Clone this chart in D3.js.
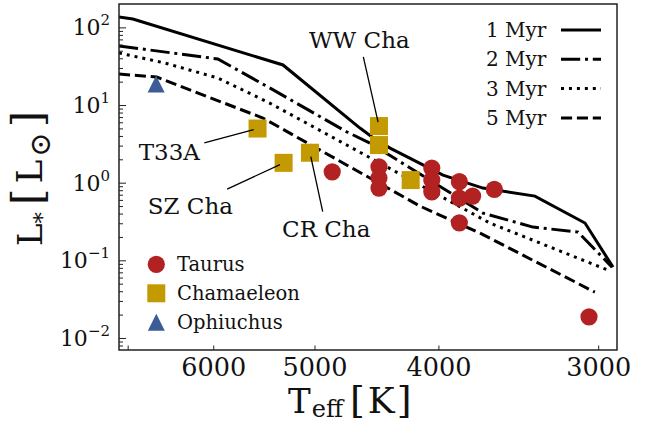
<!DOCTYPE html>
<html lang="en">
<head>
<meta charset="utf-8">
<title>HR diagram</title>
<script src="https://cdn.jsdelivr.net/npm/d3@7"></script>
<style>
  body { margin: 0; background: #fff; }
  svg { font-family: "DejaVu Serif", serif; }
</style>
</head>
<body>
<script>
// isochrones: Teff [K] and L [Lsun]
var iso1T = [7110, 6935, 5292, 4607, 4508, 4364, 3967, 3692, 3362, 3072, 2921];
var iso1L = [136, 128, 32.8, 5.05, 3.87, 2.79, 1.25, 0.852, 0.672, 0.302, 0.0817];
var iso2T = [7110, 5951, 5420, 4716, 4525, 3692, 3374, 3111, 2926];
var iso2L = [57.6, 39.2, 16.6, 4.49, 3.24, 0.406, 0.268, 0.231, 0.0817];
var iso3T = [7110, 6548, 5951, 5420, 3646, 2947];
var iso3L = [46.8, 34.8, 22.3, 10.6, 0.302, 0.0747];
var iso5T = [7110, 6644, 5487, 4135, 3711, 3018];
var iso5L = [25.1, 22.9, 6.80, 0.499, 0.224, 0.0389];
var isoNames = ["1 Myr", "2 Myr", "3 Myr", "5 Myr"];

// stars
var taurusT = [4843, 4452, 4452, 4452, 4048, 4048, 4048, 3852, 3852, 3761, 3617, 3852, 3050];
var taurusL = [1.38, 1.60, 1.15, 0.852, 1.54, 1.08, 0.763, 1.03, 0.633, 0.672, 0.820, 0.304, 0.0187];
var chamT = [5540, 5286, 5041, 4452, 4452, 4205];
var chamL = [4.98, 1.80, 2.43, 5.36, 3.05, 1.08];
var ophT = [6650];
var ophL = [18.7];
var regionNames = ["Taurus", "Chamaeleon", "Ophiuchus"];

// labelled stars: target and text position (data coords)
var annNames = ["WW Cha", "T33A", "SZ Cha", "CR Cha"];
var annT = [4452, 5540, 5286, 5041];
var annL = [5.36, 4.98, 1.80, 2.43];
var annTextT = [5050, 6862, 6751, 5301];
var annTextL = [54.3, 1.955, 0.394, 0.202];

// ticks
var xTicks = [7000, 6000, 5000, 4000, 3000];
var xTickLabels = ["", "6000", "5000", "4000", "3000"];
var yMajor = [0.01, 0.1, 1, 10, 100];
var yExp = ["\u22122", "\u22121", "0", "1", "2"];

var width = 645, height = 424;
var margin = {top: 4, right: 28, bottom: 74, left: 119};
var w = width - margin.left - margin.right;
var h = height - margin.top - margin.bottom;

var svg = d3.select("body").append("svg")
    .attr("width", width)
    .attr("height", height);
var g = svg.append("g")
    .attr("transform", "translate(" + margin.left + "," + margin.top + ")");

var x = d3.scaleLog().domain([7110, 2900]).range([0, w]);
var y = d3.scaleLog().domain([0.007, 200]).range([h, 0]);

g.append("clipPath").attr("id", "clip")
  .append("rect").attr("width", w).attr("height", h);

// isochrone lines
var isoT = [iso1T, iso2T, iso3T, iso5T];
var isoL = [iso1L, iso2L, iso3L, iso5L];
var dashes = [null, "19.2,4.8,3,4.8", "3,4.95", "11.1,4.8"];
var line = d3.line().x(function(d){ return x(d[0]); }).y(function(d){ return y(d[1]); });

var lines = g.append("g").attr("clip-path", "url(#clip)");
isoT.forEach(function(ts, i){
  var pts = ts.map(function(t, j){ return [t, isoL[i][j]]; });
  lines.append("path")
    .datum(pts)
    .attr("d", line)
    .attr("fill", "none")
    .attr("stroke", "#000")
    .attr("stroke-width", 3)
    .attr("stroke-dasharray", dashes[i]);
});

// markers
var red = "#b22222", gold = "#c49a02", blue = "#3b5c96";
function triPath(s){ return "M0," + (-s/2) + "L" + (s/2) + "," + (s/2) + "L" + (-s/2) + "," + (s/2) + "Z"; }

var pts = g.append("g");
pts.selectAll("circle.tau")
  .data(taurusT.map(function(t, i){ return [t, taurusL[i]]; }))
  .enter().append("circle")
    .attr("cx", function(d){ return x(d[0]); })
    .attr("cy", function(d){ return y(d[1]); })
    .attr("r", 8.6)
    .attr("fill", red);

pts.selectAll("rect.cham")
  .data(chamT.map(function(t, i){ return [t, chamL[i]]; }))
  .enter().append("rect")
    .attr("x", function(d){ return x(d[0]) - 9; })
    .attr("y", function(d){ return y(d[1]) - 9; })
    .attr("width", 18).attr("height", 18)
    .attr("fill", gold);

pts.selectAll("path.oph")
  .data(ophT.map(function(t, i){ return [t, ophL[i]]; }))
  .enter().append("path")
    .attr("transform", function(d){ return "translate(" + x(d[0]) + "," + y(d[1]) + ")"; })
    .attr("d", triPath(17))
    .attr("fill", blue);

// annotations
annNames.forEach(function(name, i){
  var t = g.append("text")
    .attr("x", x(annTextT[i]))
    .attr("y", y(annTextL[i]))
    .attr("font-size", 23)
    .attr("fill", "#111")
    .text(name);
  var b = t.node().getBBox();
  var pad = 4;
  var cx = b.x + b.width / 2, cy = b.y + b.height / 2;
  var px = x(annT[i]), py = y(annL[i]);
  var dx = px - cx, dy = py - cy;
  var s = Math.min((b.width / 2 + pad) / Math.abs(dx), (b.height / 2 + pad) / Math.abs(dy));
  var len = Math.sqrt(dx * dx + dy * dy);
  g.append("line")
    .attr("x1", cx + s * dx).attr("y1", cy + s * dy)
    .attr("x2", px - 4 * dx / len).attr("y2", py - 4 * dy / len)
    .attr("stroke", "#000")
    .attr("stroke-width", 1.3);
});

// axes
var minorY = [];
[0.001, 0.01, 0.1, 1, 10, 100].forEach(function(dec){
  for (var k = 2; k <= 9; k++) minorY.push(dec * k);
});
minorY = minorY.filter(function(v){ return v > 0.007 && v < 200; });

g.append("g").attr("class", "axis")
  .attr("transform", "translate(0," + h + ")")
  .call(d3.axisBottom(x).tickValues(xTicks).tickSize(-4.5).tickPadding(8)
        .tickFormat(function(d, i){ return xTickLabels[i]; }));

g.append("g").attr("class", "axis")
  .call(d3.axisLeft(y).tickValues(yMajor).tickSize(-7).tickFormat(""));
g.append("g").attr("class", "axis")
  .call(d3.axisLeft(y).tickValues(minorY).tickSize(-4).tickFormat(""));

g.selectAll(".axis .domain").remove();
g.selectAll(".axis line").attr("stroke", "#222").attr("stroke-width", 1);
g.selectAll(".axis text")
  .attr("font-family", "DejaVu Serif")
  .attr("font-size", 25.5)
  .attr("fill", "#111");

// y tick labels 10^n
yMajor.forEach(function(v, i){
  var t = g.append("text")
    .attr("x", -9)
    .attr("y", y(v) + 8)
    .attr("text-anchor", "end")
    .attr("font-size", 22)
    .attr("fill", "#111");
  t.append("tspan").text("10");
  t.append("tspan").attr("font-size", 15).attr("dy", -10).text(yExp[i]);
});

// spines
g.append("rect")
  .attr("width", w).attr("height", h)
  .attr("fill", "none")
  .attr("stroke", "#222")
  .attr("stroke-width", 1.5);

// axis labels
var xl = svg.append("text")
  .attr("x", 288)
  .attr("y", 413)
  .attr("font-size", 34)
  .attr("fill", "#111");
xl.append("tspan").text("T");
xl.append("tspan").attr("font-size", 24).attr("dy", 4).attr("dx", 1).text("eff");
xl.append("tspan").attr("dy", -4).attr("font-size", 38).attr("dx", 7).text("[");
xl.append("tspan").attr("dx", 3).attr("font-size", 36).text("K");
xl.append("tspan").attr("dx", 2).attr("font-size", 38).text("]");

var yl = svg.append("text")
  .attr("transform", "translate(42,246) rotate(-90)")
  .attr("font-size", 34)
  .attr("fill", "#111");
yl.append("tspan").text("L");
yl.append("tspan").attr("font-size", 23).attr("dy", 8).text("*");
yl.append("tspan").attr("dy", -8).attr("dx", 7).attr("font-size", 42).text("[");
yl.append("tspan").attr("dx", 5).attr("font-size", 36).text("L");
yl.append("tspan").attr("font-size", 29).attr("dy", 8).attr("dx", 3).text("\u2299");
yl.append("tspan").attr("dy", -8).attr("dx", 5).attr("font-size", 42).text("]");

// isochrone legend (upper right)
var leg1 = g.append("g");
isoNames.forEach(function(name, i){
  var yy = 26 + i * 29.3;
  leg1.append("text")
    .attr("x", 367).attr("y", yy + 7)
    .attr("font-size", 20)
    .attr("fill", "#111")
    .text(name);
  leg1.append("line")
    .attr("x1", 442).attr("x2", 482)
    .attr("y1", yy).attr("y2", yy)
    .attr("stroke", "#000")
    .attr("stroke-width", 3)
    .attr("stroke-dasharray", dashes[i]);
});

// region legend (lower left)
var leg2 = g.append("g");
regionNames.forEach(function(name, i){
  var yy = 260.3 + i * 29;
  var cx = 37.3;
  if (i === 0) leg2.append("circle").attr("cx", cx).attr("cy", yy).attr("r", 8.6).attr("fill", red);
  if (i === 1) leg2.append("rect").attr("x", cx - 9).attr("y", yy - 9).attr("width", 18).attr("height", 18).attr("fill", gold);
  if (i === 2) leg2.append("path").attr("transform", "translate(" + cx + "," + yy + ")").attr("d", triPath(17)).attr("fill", blue);
  leg2.append("text")
    .attr("x", 58).attr("y", yy + 7)
    .attr("font-size", 19.5)
    .attr("fill", "#111")
    .text(name);
});
</script>
</body>
</html>
